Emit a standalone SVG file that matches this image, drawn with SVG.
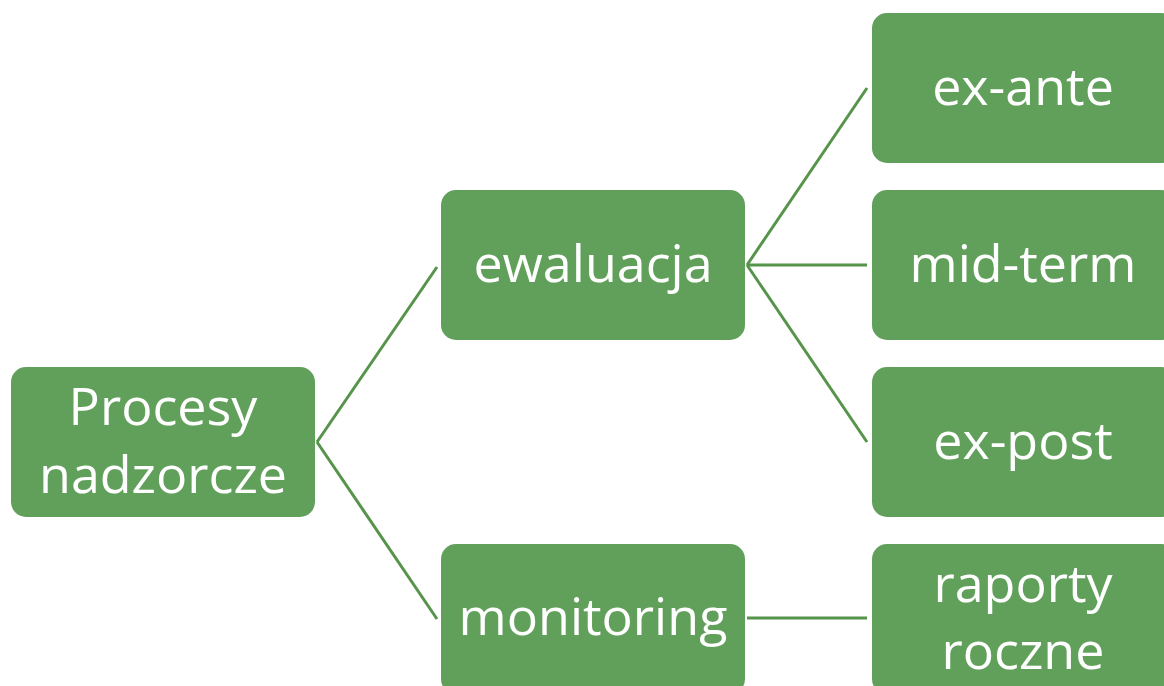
<svg xmlns="http://www.w3.org/2000/svg" width="1164" height="686" viewBox="0 0 1164 686">
<style>
.box{fill:#61a05a;}
.lbl{font-family:"Open Sans","Liberation Sans",sans-serif;font-size:52px;fill:#ffffff;text-anchor:middle;}
.edge{stroke:#55944a;stroke-width:3;fill:none;}
</style>
<rect width="1164" height="686" fill="#ffffff"/>
<g id="connectors">
<line class="edge" x1="317" y1="442" x2="437" y2="267"/>
<line class="edge" x1="317" y1="442" x2="437" y2="619"/>
<line class="edge" x1="747" y1="265" x2="867" y2="88"/>
<line class="edge" x1="747" y1="265" x2="867" y2="265"/>
<line class="edge" x1="747" y1="265" x2="867" y2="442"/>
<line class="edge" x1="747" y1="618" x2="867" y2="618"/>
</g>
<g id="procesy">
<rect class="box" x="11" y="367" width="304" height="150" rx="15"/>
<text class="lbl" x="163" y="425">Procesy</text>
<text class="lbl" x="163" y="493">nadzorcze</text>
</g>
<g id="ewaluacja">
<rect class="box" x="441" y="190" width="304" height="150" rx="15"/>
<text class="lbl" x="593" y="282">ewaluacja</text>
</g>
<g id="monitoring">
<rect class="box" x="441" y="544" width="304" height="150" rx="15"/>
<text class="lbl" x="593" y="635">monitoring</text>
</g>
<g id="ex-ante">
<rect class="box" x="872" y="13" width="304" height="150" rx="15"/>
<text class="lbl" x="1023" y="105">ex-ante</text>
</g>
<g id="mid-term">
<rect class="box" x="872" y="190" width="304" height="150" rx="15"/>
<text class="lbl" x="1023" y="282">mid-term</text>
</g>
<g id="ex-post">
<rect class="box" x="872" y="367" width="304" height="150" rx="15"/>
<text class="lbl" x="1023" y="459">ex-post</text>
</g>
<g id="raporty">
<rect class="box" x="872" y="544" width="304" height="150" rx="15"/>
<text class="lbl" x="1023" y="602">raporty</text>
<text class="lbl" x="1023" y="669">roczne</text>
</g>
</svg>
